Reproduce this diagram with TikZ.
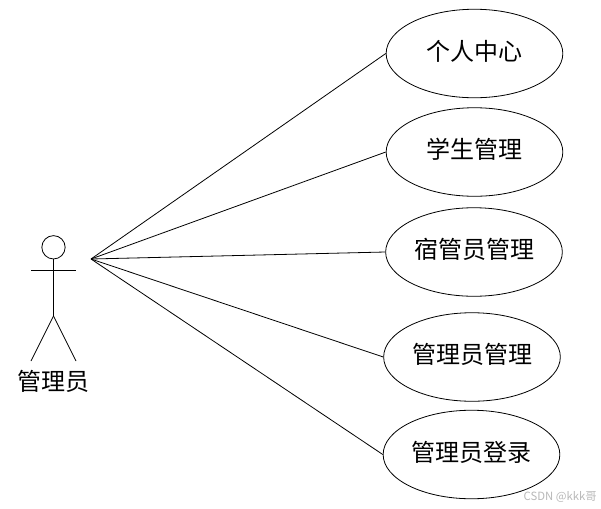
\documentclass[tikz,border=0pt]{standalone}
\usepackage{fontspec}
\setmainfont{Liberation Sans}
\newfontfamily\cjk{Noto Sans CJK SC}
\usetikzlibrary{positioning,shapes.geometric}

\begin{document}
\begin{tikzpicture}[x=0.75pt, y=-0.75pt,
    usecase/.style={ellipse, draw=black, line width=0.6pt, inner sep=0pt,
                    minimum width=132.5pt, minimum height=66.4pt,
                    text height=14pt, text depth=3.6pt, font=\cjk\fontsize{18}{20}\selectfont},
    limb/.style={draw=black, line width=0.6pt},
    link/.style={draw=black, line width=0.6pt},
    head/.style={circle, draw=black, line width=0.6pt, inner sep=0pt, minimum size=17.5pt}]
  \useasboundingbox (0,0) rectangle (601,508);
  % use cases
  \node[usecase] (center) at (474.5,53.5) {个人中心};
  \node[usecase] (student) at (474.5,152) {学生管理};
  \node[usecase] (warden) at (474,252) {宿管员管理};
  \node[usecase] (admin) at (472,357) {管理员管理};
  \node[usecase] (login) at (471.5,454.5) {管理员登录};

  % stick figure
  \node[head] (head) at (53.5,247.3) {};
  \coordinate (hip) at (53.5,316);
  \coordinate (armL) at (31,270.5);
  \coordinate (armR) at (76,270.5);
  \coordinate (footL) at (31,361);
  \coordinate (footR) at (76,361);
  \draw[limb] (head) -- (hip);
  \draw[limb] (armL) -- (armR);
  \draw[limb] (hip) -- (footL);
  \draw[limb] (hip) -- (footR);
  \node[font=\cjk\fontsize{18}{20}\selectfont] (actor) at (53,381.5) {管理员};

  % links from the actor
  \coordinate (apex) at (91,259);
  \draw[link] (apex) -- (center.west);
  \draw[link] (apex) -- (student.west);
  \draw[link] (apex) -- (warden.west);
  \draw[link] (apex) -- (admin.west);
  \draw[link] (apex) -- (login.west);

  \node[font=\cjk\fontsize{8.5}{9}\selectfont, text=black!28, anchor=east, inner sep=0pt] (mark) at (597,497) {CSDN @kkk哥};
\end{tikzpicture}
\end{document}
